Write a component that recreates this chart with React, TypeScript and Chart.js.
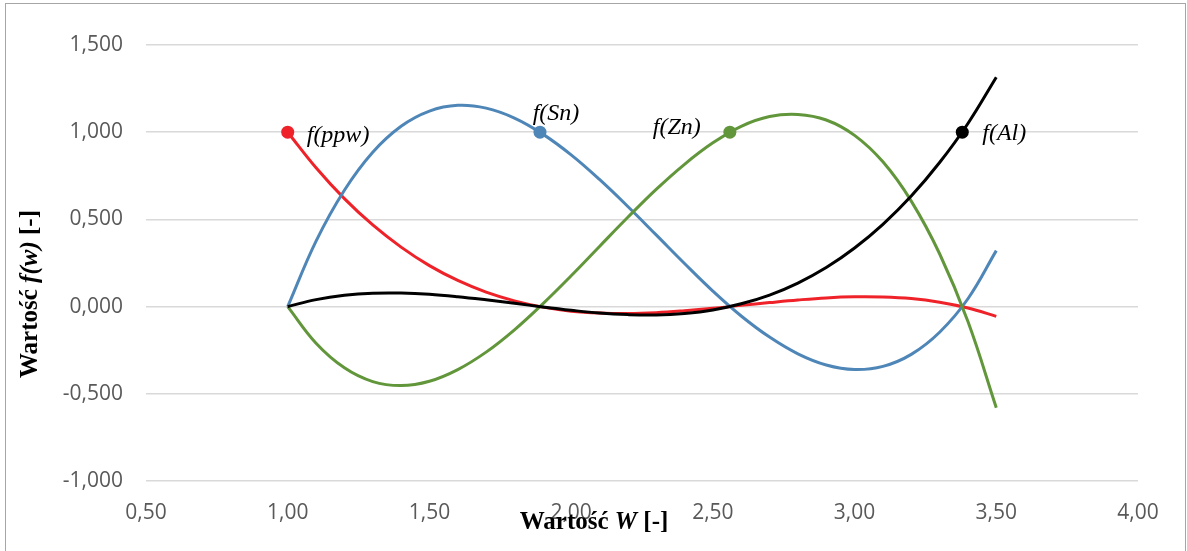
import React, { useEffect, useRef } from "react";
import { Chart, registerables } from "chart.js";

Chart.register(...registerables);

// ---- data ----
const xValues = [
  1.0, 1.1, 1.2, 1.3, 1.4, 1.5, 1.6, 1.7, 1.8, 1.9,
  2.0, 2.1, 2.2, 2.3, 2.4, 2.5, 2.6, 2.7, 2.8, 2.9,
  3.0, 3.1, 3.2, 3.3, 3.4, 3.5,
];
const ppwValues = [
  1.0, 0.796, 0.619, 0.468, 0.341, 0.235, 0.15, 0.083, 0.033, -0.003,
  -0.026, -0.037, -0.04, -0.035, -0.024, -0.01, 0.007, 0.023, 0.038, 0.05,
  0.056, 0.055, 0.046, 0.025, -0.008, -0.056,
];
const snValues = [
  0.0, 0.375, 0.667, 0.885, 1.034, 1.121, 1.154, 1.138, 1.081, 0.989,
  0.87, 0.729, 0.574, 0.411, 0.247, 0.089, -0.054, -0.175, -0.271, -0.335,
  -0.361, -0.343, -0.274, -0.147, 0.045, 0.321,
];
const znValues = [
  0.0, -0.21, -0.351, -0.43, -0.453, -0.428, -0.361, -0.261, -0.133, 0.016,
  0.177, 0.345, 0.512, 0.672, 0.816, 0.939, 1.034, 1.09, 1.102, 1.07,
  0.982, 0.83, 0.605, 0.303, -0.086, -0.58,
];
const alValues = [
  0.0, 0.04, 0.065, 0.077, 0.078, 0.071, 0.057, 0.039, 0.019, -0.002,
  -0.021, -0.037, -0.046, -0.048, -0.039, -0.019, 0.016, 0.066, 0.135, 0.224,
  0.336, 0.472, 0.634, 0.826, 1.05, 1.315,
];
const nodeX = [1.0, 1.89, 2.56, 3.38];
const nodeY = [1.0, 1.0, 1.0, 1.0];
const nodeLabels = ["f(ppw)", "f(Sn)", "f(Zn)", "f(Al)"];
const xRange = [0.5, 4.0];
const yRange = [-1.0, 1.5];
const tickStep = 0.5;
const xTitleParts: [string, boolean][] = [["Wartość ", false], ["W", true], [" [-]", false]];
const yTitleParts: [string, boolean][] = [["Wartość ", false], ["f(w)", true], [" [-]", false]];

// ---- styles ----
const RED = "#ee2228";
const BLUE = "#4f86b8";
const GREEN = "#62963b";
const BLACK = "#000000";
const nodeColors = [RED, BLUE, GREEN, BLACK];
// label placement relative to the marker: [dx, dy, align]
const labelPlacement: [number, number, CanvasTextAlign][] = [
  [19, 3, "left"],
  [16, -19, "center"],
  [-29, -5, "right"],
  [20, 1, "left"],
];

function drawRich(
  ctx: CanvasRenderingContext2D,
  parts: [string, boolean][],
  size: number
) {
  const fonts = parts.map(
    ([, it]) => `${it ? "italic " : ""}bold ${size}px "Liberation Serif", "DejaVu Serif", serif`
  );
  const widths = parts.map(([t], i) => {
    ctx.font = fonts[i];
    return ctx.measureText(t).width;
  });
  const total = widths.reduce((a, b) => a + b, 0);
  let x = -total / 2;
  ctx.textAlign = "left";
  ctx.textBaseline = "alphabetic";
  ctx.fillStyle = "#000";
  parts.forEach(([t], i) => {
    ctx.font = fonts[i];
    ctx.fillText(t, x, 0);
    x += widths[i];
  });
}

const decorPlugin = {
  id: "decor",
  beforeDraw(chart: any) {
    const ctx = chart.ctx as CanvasRenderingContext2D;
    ctx.save();
    ctx.fillStyle = "#ffffff";
    ctx.fillRect(0, 0, chart.width, chart.height);
    ctx.strokeStyle = "#a6a6a6";
    ctx.lineWidth = 1;
    ctx.strokeRect(5.5, 3.5, chart.width - 7, chart.height + 10);
    ctx.restore();
  },
  afterDraw(chart: any) {
    const ctx = chart.ctx as CanvasRenderingContext2D;
    const area = chart.chartArea;
    const xs = chart.scales.x;
    const ys = chart.scales.y;
    ctx.save();
    // node labels
    ctx.font = `italic 24px "Liberation Serif", "DejaVu Serif", serif`;
    ctx.fillStyle = "#000";
    ctx.textBaseline = "middle";
    nodeLabels.forEach((lab, i) => {
      const px = xs.getPixelForValue(nodeX[i]);
      const py = ys.getPixelForValue(nodeY[i]);
      const [dx, dy, align] = labelPlacement[i];
      ctx.textAlign = align;
      ctx.fillText(lab, px + dx, py + dy);
    });
    // x title
    ctx.save();
    ctx.translate((area.left + area.right) / 2 - 48, area.bottom + 47.5);
    drawRich(ctx, xTitleParts, 25);
    ctx.restore();
    // y title
    ctx.save();
    ctx.translate(37, (area.top + area.bottom) / 2 + 31);
    ctx.rotate(-Math.PI / 2);
    drawRich(ctx, yTitleParts, 25);
    ctx.restore();
    ctx.restore();
  },
};

export default function App() {
  const ref = useRef<HTMLCanvasElement>(null);
  useEffect(() => {
    document.body.style.margin = "0";
    const curve = (vals: number[], color: string) => ({
      data: xValues.map((x, i) => ({ x, y: vals[i] })),
      borderColor: color,
      backgroundColor: color,
      borderWidth: 3,
      pointRadius: 0,
      pointHoverRadius: 0,
      showLine: true,
      tension: 0.4,
      fill: false,
    });
    const markers = {
      data: nodeX.map((x, i) => ({ x, y: nodeY[i] })),
      showLine: false,
      pointRadius: 6.5,
      pointBackgroundColor: nodeColors,
      pointBorderColor: nodeColors,
      pointBorderWidth: 0,
    };
    const chart = new Chart(ref.current as HTMLCanvasElement, {
      type: "scatter",
      data: {
        datasets: [
          markers as any,
          curve(alValues, BLACK),
          curve(znValues, GREEN),
          curve(snValues, BLUE),
          curve(ppwValues, RED),
        ],
      },
      options: {
        animation: false,
        responsive: true,
        maintainAspectRatio: false,
        layout: { padding: { left: 0, top: 45, right: 49, bottom: 0 } },
        plugins: {
          legend: { display: false },
          tooltip: { enabled: false },
        },
        scales: {
          x: {
            type: "linear",
            min: xRange[0],
            max: xRange[1],
            afterFit: (s: any) => {
              s.height = 70;
            },
            ticks: {
              stepSize: tickStep,
              padding: 19,
              color: "#595959",
              font: { family: '"Open Sans", "Liberation Sans", sans-serif', size: 21 },
              callback: (v: any) => Number(v).toFixed(2).replace(".", ","),
            },
            grid: { display: false, drawTicks: false },
            border: { display: false },
          },
          y: {
            type: "linear",
            min: yRange[0],
            max: yRange[1],
            afterFit: (s: any) => {
              s.width = 146;
            },
            ticks: {
              stepSize: tickStep,
              padding: 23,
              color: "#595959",
              font: { family: '"Open Sans", "Liberation Sans", sans-serif', size: 21 },
              callback: (v: any) => Number(v).toFixed(3).replace(".", ","),
            },
            grid: { color: "#d9d9d9", lineWidth: 1.5, drawTicks: false },
            border: { display: false },
          },
        },
      },
      plugins: [decorPlugin],
    });
    return () => chart.destroy();
  }, []);
  return (
    <div style={{ position: "relative", width: 1187, height: 551 }}>
      <canvas ref={ref} />
    </div>
  );
}
